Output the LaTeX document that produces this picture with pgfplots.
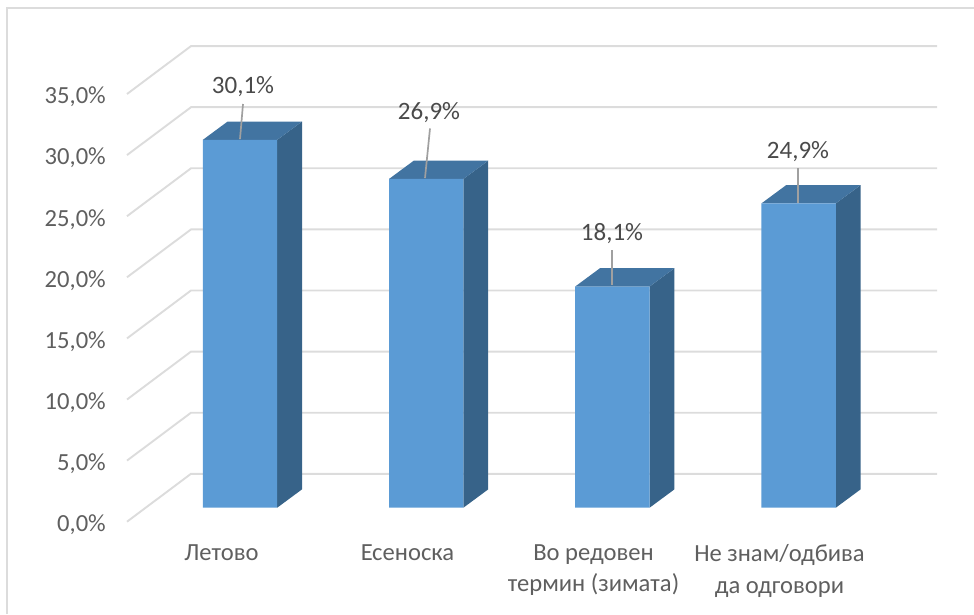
\documentclass[border=0pt]{standalone}
\usepackage{fontspec}
\setmainfont{Carlito}
\usepackage{pgfplots}
\pgfplotsset{compat=1.18}
\definecolor{front}{HTML}{5B9BD5}
\definecolor{topf}{HTML}{4274A1}
\definecolor{sidef}{HTML}{376389}
\definecolor{gridc}{HTML}{DCDCDC}
\definecolor{txt}{HTML}{5F5F5F}
\definecolor{lbl}{HTML}{4A4A4A}
\definecolor{lead}{HTML}{A0A0A0}
\begin{document}
\begin{tikzpicture}[x=1pt,y=1pt]
\useasboundingbox (0,0) rectangle (974,614);
\draw[gridc,line width=2.2pt] (7,0) -- (7,606) -- (974,606);
\begin{axis}[
  at={(127pt,92.3pt)},anchor=south west,
  scale only axis,width=810pt,height=427.7pt,
  xmin=127,xmax=937,ymin=0,ymax=35,clip=false,
  axis line style={draw=none},
  major tick length=0pt,
  ytick={0,5,...,35},
  xtick={221.5,407.5,593.5,779.5},
  xticklabels={Летово,Есеноска,{Во редовен\\термин (зимата)},{Не знам/одбива\\да одговори}},
  tick label style={font=\fontsize{24.6}{31.3}\selectfont,text=txt},
  xticklabel style={align=center,yshift=-23pt,inner sep=0pt},
  yticklabel style={inner sep=0pt,xshift=-21pt,yshift=-3pt},
  yticklabel={\pgfmathprintnumber{\tick}\%},
  /pgf/number format/.cd,fixed,fixed zerofill,precision=1,use comma,assume math mode=true,
]
% wall and floor lines of the 3-D plot
\addplot[gridc,line width=1.9pt] coordinates {(127,0)(191,3.92)(937,3.92)};
\addplot[gridc,line width=1.9pt] coordinates {(127,5)(191,8.92)(937,8.92)};
\addplot[gridc,line width=1.9pt] coordinates {(127,10)(191,13.92)(937,13.92)};
\addplot[gridc,line width=1.9pt] coordinates {(127,15)(191,18.92)(937,18.92)};
\addplot[gridc,line width=1.9pt] coordinates {(127,20)(191,23.92)(937,23.92)};
\addplot[gridc,line width=1.9pt] coordinates {(127,25)(191,28.92)(937,28.92)};
\addplot[gridc,line width=1.9pt] coordinates {(127,30)(191,33.92)(937,33.92)};
\addplot[gridc,line width=1.9pt] coordinates {(127,35)(191,38.92)(937,38.92)};
% side faces (depth 25 across, 1.5 up)
\addplot[draw=none,fill=sidef,yshift=14pt] coordinates {(277.2,0)(302,1.5)(302,31.6)(277.2,30.1)} -- cycle;
\addplot[draw=none,fill=sidef,yshift=14pt] coordinates {(463.4,0)(488.2,1.5)(488.2,28.4)(463.4,26.9)} -- cycle;
\addplot[draw=none,fill=sidef,yshift=14pt] coordinates {(649.6,0)(674.4,1.5)(674.4,19.6)(649.6,18.1)} -- cycle;
\addplot[draw=none,fill=sidef,yshift=14pt] coordinates {(835.8,0)(860.6,1.5)(860.6,26.4)(835.8,24.9)} -- cycle;
% top faces
\addplot[draw=none,fill=topf,yshift=14pt] coordinates {(202.8,30.1)(277.2,30.1)(302,31.6)(227.6,31.6)} -- cycle;
\addplot[draw=none,fill=topf,yshift=14pt] coordinates {(389,26.9)(463.4,26.9)(488.2,28.4)(413.8,28.4)} -- cycle;
\addplot[draw=none,fill=topf,yshift=14pt] coordinates {(575.2,18.1)(649.6,18.1)(674.4,19.6)(600,19.6)} -- cycle;
\addplot[draw=none,fill=topf,yshift=14pt] coordinates {(761.4,24.9)(835.8,24.9)(860.6,26.4)(786.2,26.4)} -- cycle;
% front faces
\addplot[ybar,bar width=74.4,bar shift=0pt,draw=none,fill=front,yshift=14pt] coordinates {(240,30.1)(426.2,26.9)(612.4,18.1)(798.6,24.9)};
% leader lines
\addplot[lead,line width=1.7pt] coordinates {(240,31.31)(243,34.18)};
\addplot[lead,line width=1.7pt] coordinates {(425,28.12)(430,32.18)};
\addplot[lead,line width=1.7pt] coordinates {(612,19.37)(612,22.23)};
\addplot[lead,line width=1.7pt] coordinates {(798,26.08)(798,28.95)};
\begin{scope}[every node/.style={font=\fontsize{25}{29}\selectfont,text=lbl}]
\node at (axis cs:243,35.58) {30,1\%};
\node at (axis cs:429,33.52) {26,9\%};
\node at (axis cs:612,23.62) {18,1\%};
\node at (axis cs:798,30.32) {24,9\%};
\end{scope}
\end{axis}
\end{tikzpicture}
\end{document}
